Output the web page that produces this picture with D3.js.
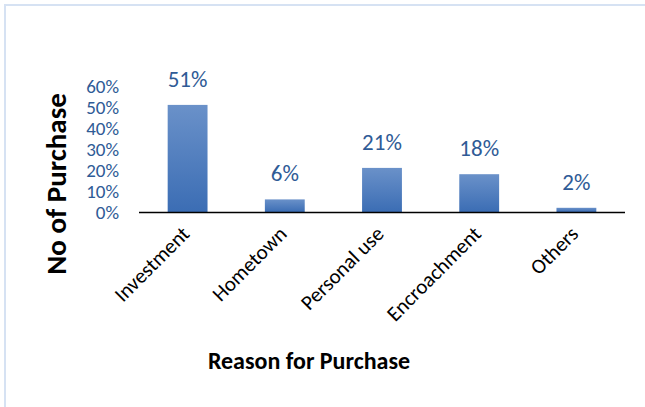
<!DOCTYPE html>
<html>
<head>
<meta charset="utf-8">
<script src="https://cdn.jsdelivr.net/npm/d3@7"></script>
<style>
  body { margin: 0; background: #fff; }
  text { font-family: Carlito, "Open Sans", "Noto Sans", sans-serif; }
</style>
</head>
<body>
<svg id="chart" width="645" height="407"></svg>
<script>
// reasons and share of purchases
var categories = ["Investment", "Hometown", "Personal use", "Encroachment", "Others"];
var shares = [0.51, 0.06, 0.21, 0.18, 0.02];
var yTicks = [0, 0.1, 0.2, 0.3, 0.4, 0.5, 0.6];

var svg = d3.select("#chart");
var margin = { left: 139, right: 20, top: 86, bottom: 195 };
var width = 645 - margin.left - margin.right,
    height = 407 - margin.top - margin.bottom;

// frame
svg.append("path")
  .attr("d", "M5,407 V5 H645")
  .attr("fill", "none")
  .attr("stroke", "#d6e2f3")
  .attr("stroke-width", 2);

var grad = svg.append("defs").append("linearGradient")
  .attr("id", "barFill").attr("x1", 0).attr("y1", 0).attr("x2", 0).attr("y2", 1);
grad.append("stop").attr("offset", "0%").attr("stop-color", "#6a91c9");
grad.append("stop").attr("offset", "100%").attr("stop-color", "#3b6db4");

var g = svg.append("g").attr("transform", "translate(" + margin.left + "," + margin.top + ")");

var x = d3.scaleBand().domain(categories).range([0, width]).paddingInner(0.59).paddingOuter(0.295);
var y = d3.scaleLinear().domain([0, 0.6]).range([height, 0]);

// y tick labels
g.selectAll(".ytick").data(yTicks).enter().append("text")
  .attr("class", "ytick")
  .attr("x", -20)
  .attr("y", function (d) { return y(d); })
  .attr("dy", "0.35em")
  .attr("text-anchor", "end")
  .attr("fill", "#2f5b96")
  .style("font-size", "19px")
  .text(d3.format(".0%"));

g.selectAll(".bar").data(shares).enter().append("rect")
  .attr("class", "bar")
  .attr("x", function (d, i) { return x(categories[i]); })
  .attr("y", function (d) { return y(d); })
  .attr("width", x.bandwidth())
  .attr("height", function (d) { return height - y(d); })
  .attr("fill", "url(#barFill)");

g.selectAll(".lbl").data(shares).enter().append("text")
  .attr("class", "lbl")
  .attr("x", function (d, i) { return x(categories[i]) + x.bandwidth() / 2; })
  .attr("y", function (d) { return y(d) - 18; })
  .attr("text-anchor", "middle")
  .attr("fill", "#2f5b96")
  .style("font-size", "23px")
  .text(d3.format(".0%"));

// baseline
g.append("line")
  .attr("x1", 0).attr("x2", width)
  .attr("y1", height + 0.5).attr("y2", height + 0.5)
  .attr("stroke", "#000").attr("stroke-width", 1.5);

// category labels
g.selectAll(".xl").data(categories).enter().append("text")
  .attr("class", "xl")
  .attr("transform", function (d) {
    return "translate(" + (x(d) + x.bandwidth() / 2 - 2) + "," + (height + 18) + ") rotate(-45)";
  })
  .attr("text-anchor", "end")
  .attr("dy", "0.35em")
  .attr("fill", "#000")
  .style("font-size", "21px")
  .text(function (d) { return d; });

// axis titles
svg.append("text")
  .attr("transform", "translate(56,184) rotate(-90)")
  .attr("text-anchor", "middle")
  .attr("dy", "0.35em")
  .style("font-size", "29px")
  .style("font-weight", "bold")
  .text("No of Purchase");

svg.append("text")
  .attr("x", 309)
  .attr("y", 361)
  .attr("text-anchor", "middle")
  .attr("dy", "0.35em")
  .style("font-size", "24px")
  .style("font-weight", "bold")
  .text("Reason for Purchase");
</script>
</body>
</html>
